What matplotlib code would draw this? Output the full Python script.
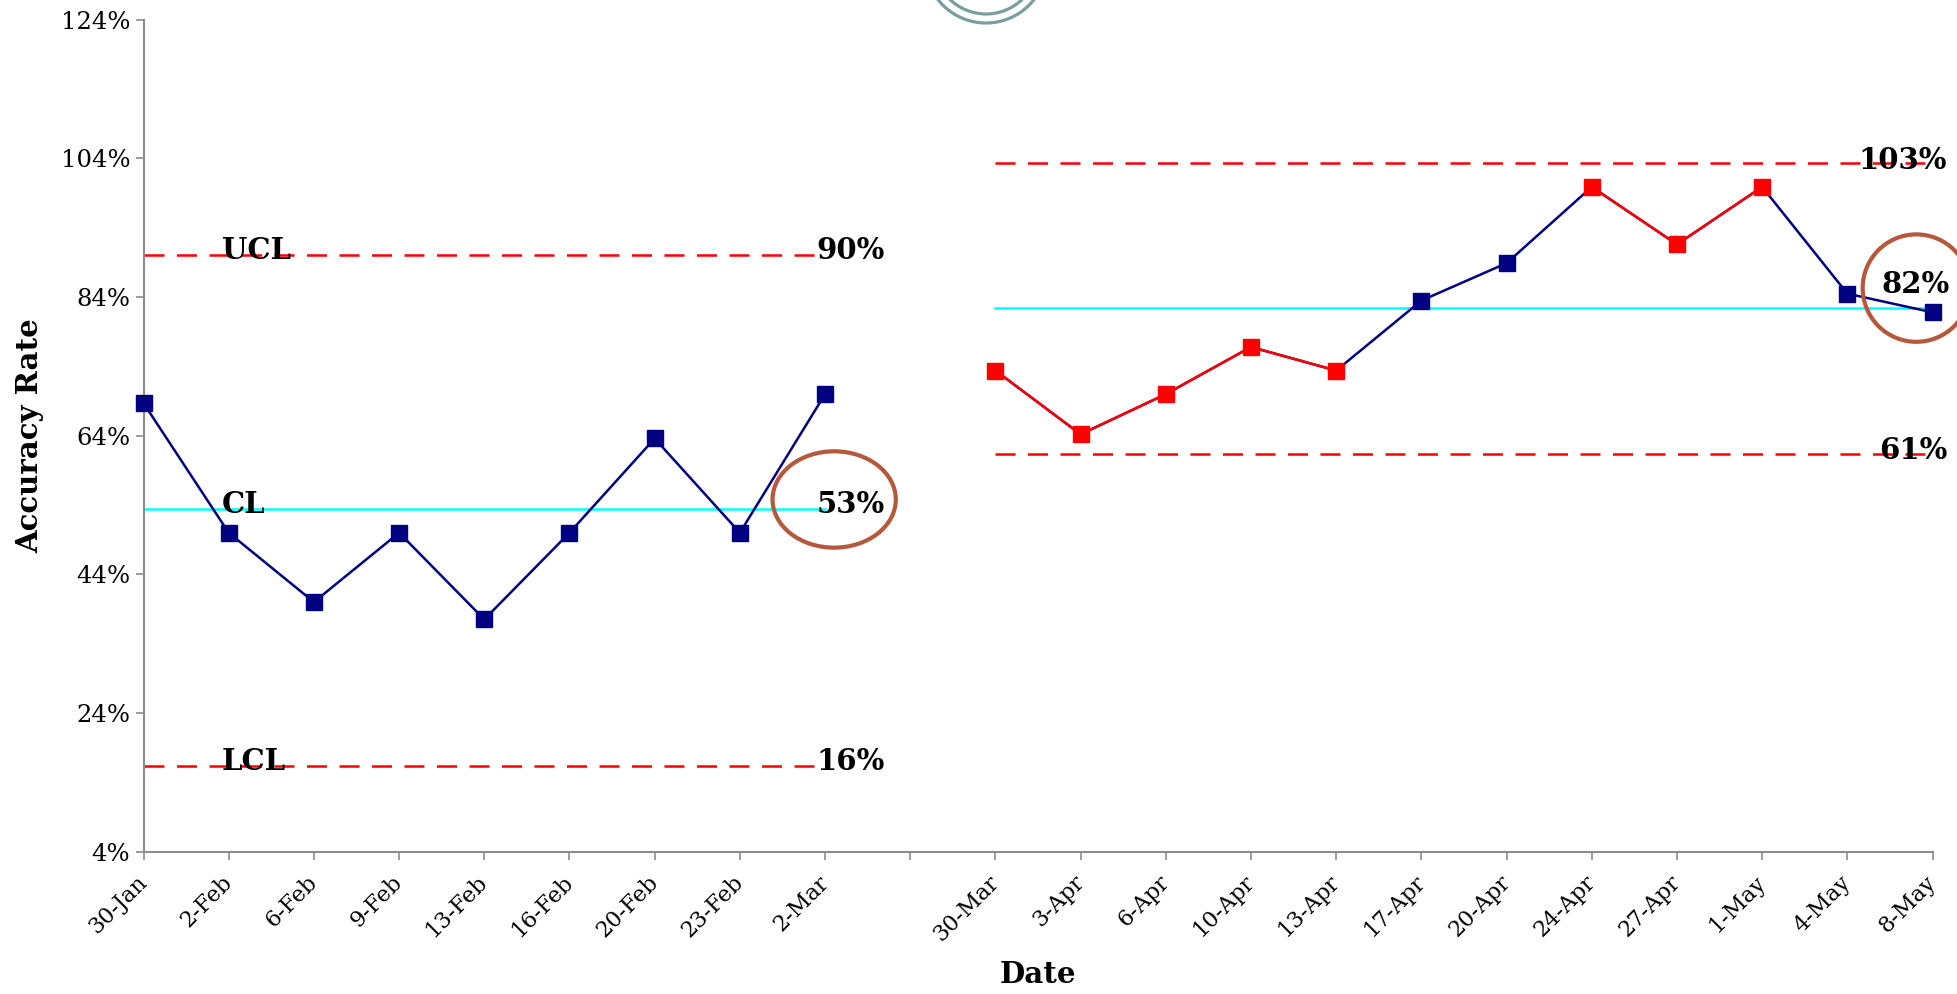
import matplotlib
matplotlib.use("Agg")
import matplotlib.pyplot as plt
from matplotlib.patches import Ellipse
from matplotlib.ticker import FixedLocator

# category axis (blank slot between the two phases)
dates = ["30-Jan", "2-Feb", "6-Feb", "9-Feb", "13-Feb", "16-Feb", "20-Feb", "23-Feb", "2-Mar", "",
         "30-Mar", "3-Apr", "6-Apr", "10-Apr", "13-Apr", "17-Apr", "20-Apr", "24-Apr", "27-Apr",
         "1-May", "4-May", "8-May"]

# phase 1 (Feb)
feb_values = [68.7, 50.0, 40.0, 50.0, 37.5, 50.0, 63.6, 50.0, 70.0]
feb_limits = {"UCL": 90.1, "CL": 53.4, "LCL": 16.4}

# phase 2 (Apr/May), flagged points drawn red
spring_values = [73.4, 64.2, 70.0, 76.8, 73.4, 83.5, 88.9, 99.9, 91.6, 99.9, 84.5, 81.8]
spring_flags = [1, 1, 1, 1, 1, 0, 0, 1, 1, 1, 0, 0]
spring_limits = {"UCL": 103.3, "CL": 82.4, "LCL": 61.3}

yticks = [4, 24, 44, 64, 84, 104, 124]

NAVY = "#000080"
RED = "#FF0000"
CYAN = "#00FFFF"
RING = "#B5583C"

plt.rcParams["font.family"] = "DejaVu Serif"

fig = plt.figure(figsize=(19.58, 9.94), dpi=100)
ax = fig.add_axes([0.0733, 0.1433, 0.9137, 0.8367])

feb_x = list(range(0, len(feb_values)))
spring_x = list(range(10, 10 + len(spring_values)))


def limit_lines(xs, limits):
    x0, x1 = xs[0], xs[-1]
    ax.plot([x0, x1], [limits["UCL"]] * 2, color=RED, lw=1.8, dashes=(8, 5), zorder=2)
    ax.plot([x0, x1], [limits["LCL"]] * 2, color=RED, lw=1.8, dashes=(8, 5), zorder=2)
    ax.plot([x0, x1], [limits["CL"]] * 2, color=CYAN, lw=1.8, zorder=2)


limit_lines(feb_x, feb_limits)
limit_lines(spring_x, spring_limits)

# phase 1 series
ax.plot(feb_x, feb_values, color=NAVY, lw=1.8, marker="s", ms=12, mfc=NAVY, mec=NAVY,
        zorder=3, clip_on=False)

# phase 2 series: navy base, red where both ends are flagged
ax.plot(spring_x, spring_values, color=NAVY, lw=1.8, zorder=3, clip_on=False)
for i in range(len(spring_values) - 1):
    if spring_flags[i] and spring_flags[i + 1]:
        ax.plot(spring_x[i:i + 2], spring_values[i:i + 2], color=RED, lw=1.8, zorder=3)
for x, v, f in zip(spring_x, spring_values, spring_flags):
    c = RED if f else NAVY
    ax.plot([x], [v], marker="s", ms=12, mfc=c, mec=c, zorder=4, clip_on=False)

# labels on limit lines
lab = dict(fontsize=21, fontweight="bold", va="baseline", zorder=5)
for name in ["UCL", "CL", "LCL"]:
    ax.text(0.92, feb_limits[name] - 0.6, name, ha="left", **lab)
    ax.text(7.9, feb_limits[name] - 0.6, f"{feb_limits[name]:.0f}%", ha="left", **lab)
ax.text(21.17, spring_limits["UCL"] - 0.8, f"{spring_limits['UCL']:.0f}%", ha="right", **lab)
ax.text(21.2, spring_limits["CL"] + 2.2, f"{spring_limits['CL']:.0f}%", ha="right", **lab)
ax.text(21.17, spring_limits["LCL"] - 0.6, f"{spring_limits['LCL']:.0f}%", ha="right", **lab)

# highlight rings
ax.add_patch(Ellipse((8.107, 54.8), 1.447, 13.9, fill=False, ec=RING, lw=3, clip_on=False, zorder=6))
ax.add_patch(Ellipse((20.81, 85.3), 1.26, 15.5, fill=False, ec=RING, lw=3, clip_on=False, zorder=6))

# slide decoration at top
for r in (61, 52):
    fig.add_artist(Ellipse((986 / 1958, 1 + 38 / 994), 2 * r / 1958, 2 * r / 994,
                           transform=fig.transFigure, fill=False, ec="#7A9E9E", lw=2.3))

ax.set_xlim(0, 21)
ax.set_ylim(4, 124)
ax.yaxis.set_major_locator(FixedLocator(yticks))
ax.set_yticklabels([f"{t}%" for t in yticks], fontsize=17.5)
ax.set_xticks(range(len(dates)))
ax.set_xticklabels(dates, rotation=45, ha="right", va="center", rotation_mode="anchor", fontsize=16)

for s in ["top", "right"]:
    ax.spines[s].set_visible(False)
for s in ["left", "bottom"]:
    ax.spines[s].set_color("#8C8C8C")
    ax.spines[s].set_linewidth(1.5)
ax.tick_params(axis="both", colors="#8C8C8C", labelcolor="black", length=6, width=1.2)
ax.tick_params(axis="x", pad=14)

ax.set_ylabel("Accuracy Rate", fontsize=21, fontweight="bold", labelpad=12)
ax.set_xlabel("Date", fontsize=21, fontweight="bold", labelpad=10)

fig.savefig("out.png", dpi=100)
